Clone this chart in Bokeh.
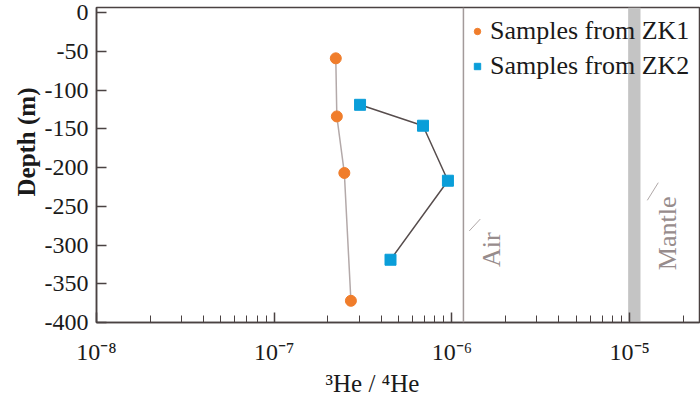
import math
from bokeh.plotting import figure
from bokeh.models import (Range1d, FixedTicker, CustomJSTickFormatter, Span, BoxAnnotation,
                          Label, Legend, LegendItem, ColumnDataSource, Title)
from bokeh.embed import file_html
from bokeh.resources import INLINE

# ---- data ----
zk1_ratio = [2.22e-7, 2.25e-7, 2.48e-7, 2.70e-7]
zk1_depth = [-59, -134, -207, -372]
zk2_ratio = [3.04e-7, 6.87e-7, 9.49e-7, 4.51e-7]
zk2_depth = [-119, -146, -217, -319]
air_ratio = 1.16e-6
mantle_low, mantle_high = 9.8e-6, 1.15e-5
x_major = [1e-8, 1e-7, 1e-6, 1e-5]
y_ticks = [0, -50, -100, -150, -200, -250, -300, -350, -400]

FONT = "Liberation Serif"
AXC = "#4a4242"
GRAY_TXT = "#978c8c"

p = figure(width=700, height=396, output_backend="svg", toolbar_location=None,
           x_axis_type="log", x_range=Range1d(1e-8, 2.47e-5), y_range=Range1d(-400, 6.6),
           min_border_left=96, min_border_right=1, min_border_top=7, min_border_bottom=69)
p.background_fill_color = "white"
p.border_fill_color = "white"
p.grid.visible = False
p.outline_line_color = AXC
p.outline_line_width = 1.5

minor = [k * 10.0 ** n for n in range(-8, -4) for k in range(2, 10) if k * 10.0 ** n <= 2.47e-5]
p.xaxis.ticker = FixedTicker(ticks=x_major, minor_ticks=minor)
p.xaxis.formatter = CustomJSTickFormatter(code="""
const sup = {"-":"\u207b","0":"\u2070","1":"\u00b9","2":"\u00b2","3":"\u00b3","4":"\u2074","5":"\u2075","6":"\u2076","7":"\u2077","8":"\u2078","9":"\u2079"};
const e = String(Math.round(Math.log10(tick)));
let s = "";
for (const c of e) s += sup[c];
return "10" + s;
""")
p.yaxis.ticker = FixedTicker(ticks=y_ticks, minor_ticks=[])
p.yaxis.formatter = CustomJSTickFormatter(code="return String(Math.round(tick));")

for ax in (p.xaxis[0], p.yaxis[0]):
    ax.axis_line_color = AXC
    ax.axis_line_width = 1.5
    ax.major_tick_line_color = AXC
    ax.major_tick_line_width = 1.5
    ax.minor_tick_line_color = AXC
    ax.major_tick_in = 10
    ax.major_tick_out = 0
    ax.minor_tick_in = 7
    ax.minor_tick_out = 0
    ax.major_label_text_font = FONT
    ax.major_label_text_font_size = "24px"
    ax.major_label_text_color = "#1a1a1a"
p.xaxis.major_label_standoff = 16
p.yaxis.major_label_standoff = 8

# reference values
p.add_layout(BoxAnnotation(left=mantle_low, right=mantle_high, fill_color="#c4c4c4",
                           fill_alpha=1.0, line_alpha=0, level="underlay"))
p.add_layout(Span(location=air_ratio, dimension="height", line_color="#a39a9a", line_width=1.5))

# leader lines and labels for Air / Mantle
p.segment(x0=[1.251e-6, 1.256e-5], y0=[-281.8, -242.3], x1=[1.443e-6, 1.448e-5], y1=[-266.5, -219.5],
          line_color="#b0a8a8", line_width=1)
p.add_layout(Label(x=1.66e-6, y=-306, text="Air", angle=math.pi / 2, text_align="center",
                   text_baseline="middle", text_font=FONT, text_font_size="26px", text_color=GRAY_TXT))
p.add_layout(Label(x=1.64e-5, y=-285, text="Mantle", angle=math.pi / 2, text_align="center",
                   text_baseline="middle", text_font=FONT, text_font_size="26px", text_color=GRAY_TXT))

# data
s1 = ColumnDataSource(dict(x=zk1_ratio, y=zk1_depth))
s2 = ColumnDataSource(dict(x=zk2_ratio, y=zk2_depth))
p.line("x", "y", source=s1, line_color="#b3a9a9", line_width=1.5)
p.line("x", "y", source=s2, line_color="#574d4d", line_width=1.5)
r1 = p.scatter("x", "y", source=s1, marker="circle", size=11, fill_color="#f07d2b", line_color="#f07d2b")
r2 = p.scatter("x", "y", source=s2, marker="square", size=11, fill_color="#0a9ed9", line_color="#0a9ed9")

legend = Legend(items=[LegendItem(label="Samples from ZK1", renderers=[r1]),
                       LegendItem(label="Samples from ZK2", renderers=[r2])],
                location=(368, 236), margin=0, padding=5, spacing=5,
                label_text_font=FONT, label_text_font_size="26px", label_text_color="#1a1a1a",
                glyph_width=16, glyph_height=24, label_height=24, label_standoff=5,
                border_line_alpha=0, background_fill_alpha=0)
p.add_layout(legend)

# axis titles
p.add_layout(Title(text="\u00b3He / \u2074He", align="left", offset=229, text_font=FONT,
                   text_font_size="25px", text_font_style="normal", text_color="#1a1a1a",
                   standoff=0), "below")
p.add_layout(Title(text="Depth (m)", align="right", offset=80, text_font=FONT,
                   text_font_size="25px", text_font_style="bold", text_color="#1a1a1a",
                   standoff=4), "left")

open("out.html", "w").write(file_html(p, INLINE))
